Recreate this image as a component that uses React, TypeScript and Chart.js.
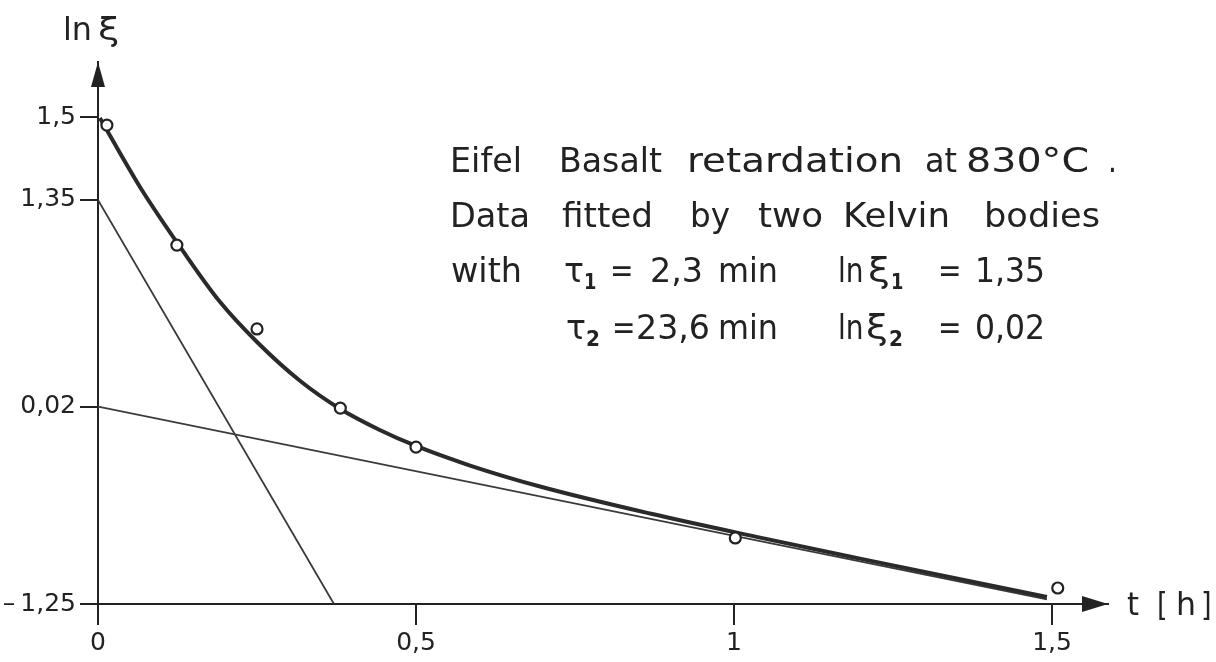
import { useEffect, useRef } from "react";
import { Chart, registerables } from "chart.js";

Chart.register(...registerables);

// ---- data ----
const measuredT = [0.014, 0.124, 0.25, 0.381, 0.5, 1.002, 1.509];
const measuredLnXi = [1.832, 1.06, 0.52, 0.011, -0.24, -0.825, -1.147];

const fitT = [0.003, 0.066, 0.134, 0.192, 0.25, 0.318, 0.381, 0.443, 0.5, 0.585, 0.695, 0.868, 1.041, 1.198, 1.371, 1.492];
const fitLnXi = [1.878, 1.434, 1.019, 0.693, 0.436, 0.185, 0.005, -0.13, -0.233, -0.359, -0.494, -0.668, -0.823, -0.958, -1.104, -1.205];

const kelvin1T = [0, 0.371];
const kelvin1LnXi = [1.35, -1.25];
const kelvin2T = [0, 1.492];
const kelvin2LnXi = [0.02, -1.22];

const xTickValues = [0, 0.5, 1, 1.5];
const xTickLabels = ["0", "0,5", "1", "1,5"];
// the "1,5" mark sits higher than a linear scale would put it in the original drawing
const yTickValues = [-1.25, 0.02, 1.35, 1.884];
const yTickLabels = ["\u2013\u20091,25", "0,02", "1,35", "1,5"];

const xMin = 0;
const xMax = 1.588;
const yMin = -1.25;
const yMax = 2.238;

const INK = "#222222";
const FONT = "'DejaVu Sans', sans-serif";

const pts = (xs: number[], ys: number[]) => xs.map((x, i) => ({ x, y: ys[i] }));

function drawWord(ctx: CanvasRenderingContext2D, text: string, x0: number, x1: number, base: number, font: string) {
  ctx.font = font;
  const w = ctx.measureText(text).width;
  let sx = (x1 - x0) / w;
  if (sx < 0.85) sx = 0.85;
  if (sx > 1.2) sx = 1.2;
  ctx.save();
  ctx.translate(x0, base);
  ctx.scale(sx, 1);
  ctx.fillText(text, 0, 0);
  ctx.restore();
}

const decorPlugin = {
  id: "decor",
  afterDraw(chart: any) {
    const ctx: CanvasRenderingContext2D = chart.ctx;
    const { left, right, top, bottom } = chart.chartArea;
    ctx.save();
    ctx.fillStyle = INK;
    // arrow heads
    ctx.beginPath();
    ctx.moveTo(left, top);
    ctx.lineTo(left - 7, top + 25);
    ctx.lineTo(left + 7, top + 25);
    ctx.closePath();
    ctx.fill();
    ctx.beginPath();
    ctx.moveTo(right, bottom);
    ctx.lineTo(right - 26, bottom - 8);
    ctx.lineTo(right - 26, bottom + 8);
    ctx.closePath();
    ctx.fill();

    ctx.textAlign = "left";
    ctx.textBaseline = "alphabetic";
    const big = `33px ${FONT}`;
    const sub = `bold 21px ${FONT}`;
    const ax = `32px ${FONT}`;

    // axis titles
    drawWord(ctx, "ln", 63, 92, 40, ax);
    drawWord(ctx, "\u03BE", 98, 120, 40, ax);
    drawWord(ctx, "t", 1127, 1139, 615, ax);
    drawWord(ctx, "[", 1157, 1166, 615, ax);
    drawWord(ctx, "h", 1176, 1196, 615, ax);
    drawWord(ctx, "]", 1201, 1210, 615, ax);

    // annotation
    const l1 = 172, l2 = 227, l3 = 282, l4 = 339;
    drawWord(ctx, "Eifel", 450, 522, l1, big);
    drawWord(ctx, "Basalt", 559, 662, l1, big);
    drawWord(ctx, "retardation", 687, 903, l1, big);
    drawWord(ctx, "at", 925, 957, l1, big);
    drawWord(ctx, "830\u00B0C", 966, 1092, l1, big);
    drawWord(ctx, ".", 1108, 1115, l1, big);

    drawWord(ctx, "Data", 450, 530, l2, big);
    drawWord(ctx, "fitted", 562, 653, l2, big);
    drawWord(ctx, "by", 690, 730, l2, big);
    drawWord(ctx, "two", 758, 823, l2, big);
    drawWord(ctx, "Kelvin", 843, 950, l2, big);
    drawWord(ctx, "bodies", 984, 1100, l2, big);

    drawWord(ctx, "with", 451, 522, l3, big);
    drawWord(ctx, "\u03C4", 564, 584, l3, big);
    drawWord(ctx, "1", 584, 595, l3 + 7, sub);
    drawWord(ctx, "=", 610, 628, l3, big);
    drawWord(ctx, "2,3", 650, 703, l3, big);
    drawWord(ctx, "min", 718, 778, l3, big);
    drawWord(ctx, "ln", 838, 862, l3, big);
    drawWord(ctx, "\u03BE", 868, 890, l3, big);
    drawWord(ctx, "1", 891, 903, l3 + 7, sub);
    drawWord(ctx, "=", 938, 958, l3, big);
    drawWord(ctx, "1,35", 975, 1045, l3, big);

    drawWord(ctx, "\u03C4", 566, 586, l4, big);
    drawWord(ctx, "2", 586, 600, l4 + 7, sub);
    drawWord(ctx, "=", 612, 630, l4, big);
    drawWord(ctx, "23,6", 636, 710, l4, big);
    drawWord(ctx, "min", 718, 778, l4, big);
    drawWord(ctx, "ln", 838, 862, l4, big);
    drawWord(ctx, "\u03BE", 866, 888, l4, big);
    drawWord(ctx, "2", 889, 903, l4 + 7, sub);
    drawWord(ctx, "=", 938, 958, l4, big);
    drawWord(ctx, "0,02", 975, 1045, l4, big);
    ctx.restore();
  },
};

export default function App() {
  const ref = useRef<HTMLCanvasElement | null>(null);

  useEffect(() => {
    if (!ref.current) return;
    const chart = new Chart(ref.current, {
      type: "scatter",
      data: {
        datasets: [
          {
            label: "measured",
            data: pts(measuredT, measuredLnXi),
            showLine: false,
            pointRadius: 5.5,
            pointBorderWidth: 2.2,
            pointBorderColor: INK,
            pointBackgroundColor: "#ffffff",
            order: 0,
          },
          {
            label: "fit",
            data: pts(fitT, fitLnXi),
            showLine: true,
            cubicInterpolationMode: "monotone",
            borderColor: "#2a2a2a",
            borderWidth: 4,
            pointRadius: 0,
            order: 1,
          },
          {
            label: "Kelvin 1",
            data: pts(kelvin1T, kelvin1LnXi),
            showLine: true,
            borderColor: "#3a3a3a",
            borderWidth: 1.8,
            pointRadius: 0,
            order: 2,
          },
          {
            label: "Kelvin 2",
            data: pts(kelvin2T, kelvin2LnXi),
            showLine: true,
            borderColor: "#3a3a3a",
            borderWidth: 1.8,
            pointRadius: 0,
            order: 2,
          },
        ],
      },
      options: {
        animation: false,
        responsive: false,
        devicePixelRatio: 1,
        layout: { padding: { left: 0, top: 62, right: 108, bottom: 0 } },
        plugins: { legend: { display: false }, tooltip: { enabled: false } },
        scales: {
          x: {
            type: "linear",
            min: xMin,
            max: xMax,
            afterBuildTicks: (s: any) => {
              s.ticks = xTickValues.map((v) => ({ value: v }));
            },
            afterFit: (s: any) => {
              s.height = 58;
            },
            ticks: {
              autoSkip: false,
              maxRotation: 0,
              padding: 3,
              color: INK,
              font: { family: FONT, size: 25 },
              callback: (_v: any, i: number) => xTickLabels[i],
            },
            grid: { drawOnChartArea: false, drawTicks: true, tickLength: 21, color: INK, lineWidth: 2 },
            border: { display: true, color: INK, width: 2 },
          },
          y: {
            type: "linear",
            min: yMin,
            max: yMax,
            afterBuildTicks: (s: any) => {
              s.ticks = yTickValues.map((v) => ({ value: v }));
            },
            afterFit: (s: any) => {
              s.width = 98;
            },
            ticks: {
              autoSkip: false,
              padding: 4,
              color: INK,
              font: { family: FONT, size: 25 },
              callback: (_v: any, i: number) => yTickLabels[i],
            },
            grid: { drawOnChartArea: false, drawTicks: true, tickLength: 18, color: INK, lineWidth: 2 },
            border: { display: true, color: INK, width: 2 },
          },
        },
      },
      plugins: [decorPlugin],
    } as any);
    return () => chart.destroy();
  }, []);

  return (
    <div style={{ position: "fixed", left: 0, top: 0, width: 1216, height: 662, background: "#fff" }}>
      <canvas ref={ref} width={1216} height={662} style={{ display: "block" }} />
    </div>
  );
}
